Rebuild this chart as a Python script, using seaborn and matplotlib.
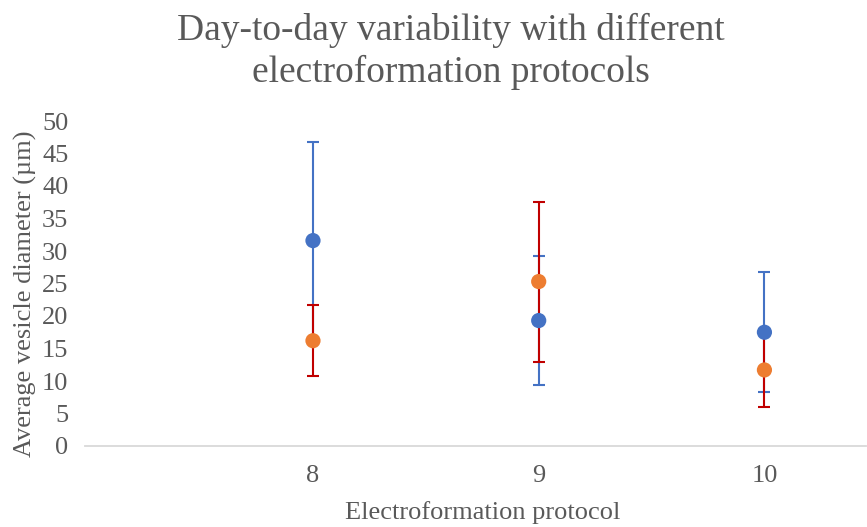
import matplotlib
matplotlib.use("Agg")
import matplotlib.pyplot as plt
import seaborn as sns
import pandas as pd

# Protocol numbers on the x axis
protocols = [8, 9, 10]

# First series: mean vesicle diameter and error (µm)
first_mean = [31.6, 19.3, 17.5]
first_err = [15.2, 9.9, 9.2]

# Second series: mean vesicle diameter and error (µm)
second_mean = [16.2, 25.3, 11.7]
second_err = [5.5, 12.3, 5.7]

y_ticks = [0, 5, 10, 15, 20, 25, 30, 35, 40, 45, 50]

df = pd.DataFrame({
    "protocol": protocols * 2,
    "diameter": first_mean + second_mean,
    "err": first_err + second_err,
    "series": ["first"] * 3 + ["second"] * 3,
})

sns.set_theme(style="white")
plt.rcParams["font.family"] = ["Liberation Serif", "DejaVu Serif"]
text_color = "#595959"

W, H = 867, 527
fig = plt.figure(figsize=(W / 100, H / 100), dpi=100)
ax = fig.add_axes([85 / W, 1 - 446 / H, (866 - 85) / W, (446 - 121) / H])

err_colors = {"first": "#4472C4", "second": "#C00000"}
for name, sub in df.groupby("series"):
    ax.errorbar(sub["protocol"], sub["diameter"], yerr=sub["err"], fmt="none",
                ecolor=err_colors[name], elinewidth=1.5, capsize=4.3, capthick=1.5,
                zorder=2)

sns.scatterplot(data=df, x="protocol", y="diameter", hue="series",
                palette={"first": "#4472C4", "second": "#ED7D31"},
                s=120, edgecolor="none", legend=False, ax=ax, zorder=3)

ax.set_xlim(6.99, 10.45)
ax.set_ylim(0, 50)
ax.set_xticks(protocols)
ax.set_yticks(y_ticks)
ax.tick_params(axis="both", length=0, labelsize=19, colors=text_color)
ax.tick_params(axis="x", pad=13.5)
ax.tick_params(axis="y", pad=12)

for side in ["top", "right", "left"]:
    ax.spines[side].set_visible(False)
ax.spines["bottom"].set_color("#D9D9D9")
ax.spines["bottom"].set_linewidth(1.3)
ax.grid(False)

ax.set_xlabel("Electroformation protocol", fontsize=19, color=text_color)
ax.xaxis.label.set_va("baseline")
ax.xaxis.set_label_coords(0.5 + 7 / (866 - 85), -(519 - 446) / (446 - 121))

ax.set_ylabel("Average vesicle diameter (µm)", fontsize=19, color=text_color)
ax.yaxis.label.set_va("baseline")
ax.yaxis.set_label_coords(-(85 - 32) / (866 - 85), 0.5 - 10 / (446 - 121))

title_lines = ["Day-to-day variability with different", "electroformation protocols"]
for line, base in zip(title_lines, [40, 82]):
    fig.text(451 / W, 1 - base / H, line, ha="center", va="baseline",
             fontsize=27, color=text_color)

fig.savefig("out.png", dpi=100)
